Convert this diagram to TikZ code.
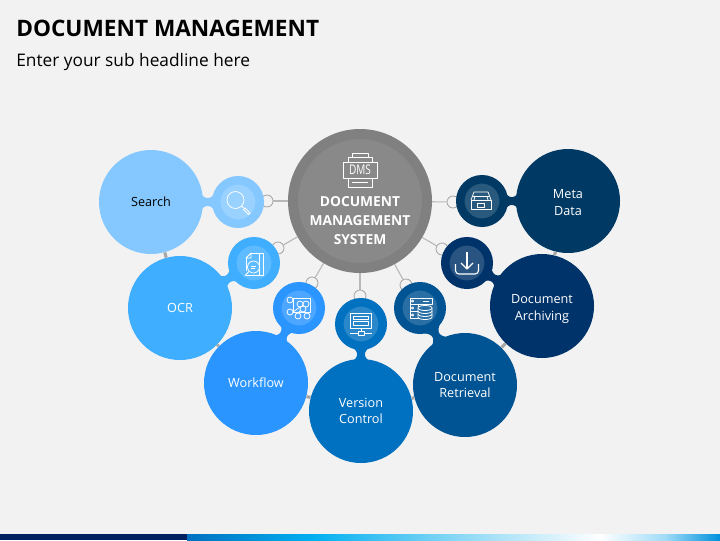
\documentclass[tikz,border=0pt]{standalone}
\usepackage{fontspec}
\setmainfont{Open Sans}
\def\px{0.025cm}
\definecolor{pagebg}{HTML}{F2F2F2}
\definecolor{linkgray}{HTML}{A6A6A6}
\definecolor{hubring}{HTML}{808080}
\definecolor{hubfill}{HTML}{898989}
\definecolor{searchblue}{HTML}{85C8FF}
\definecolor{ocrblue}{HTML}{3FAEFF}
\definecolor{flowblue}{HTML}{2B95FF}
\definecolor{versionblue}{HTML}{0070C0}
\definecolor{retrieveblue}{HTML}{005494}
\definecolor{archiveblue}{HTML}{00336A}
\definecolor{metablue}{HTML}{003A64}
\definecolor{bandnavy}{HTML}{002060}
\definecolor{bandsky}{HTML}{00B0F0}
\definecolor{bandpale}{HTML}{8AD8F5}
\definecolor{bandmist}{HTML}{A0DCF8}
\definecolor{bandend}{HTML}{0090DC}
\tikzset{
    bigball/.style={circle, fill=#1, text=white, minimum size=104*\px, inner sep=0pt, align=center, font=\fontsize{9}{11.9}\selectfont},
    iconball/.style={circle, fill=#1!84!white, draw=#1, line width=8.5*\px, minimum size=43.5*\px, inner sep=0pt},
    ringdot/.style={circle, draw=linkgray, fill=pagebg, line width=0.6pt, minimum size=12*\px, inner sep=0pt},
    hublink/.style={draw=linkgray!80, line width=0.8pt},
    biglink/.style={draw=linkgray, line width=2.2pt},
    icon/.style={draw=white, line width=0.55pt, line join=round},
    neck/.pic={\fill[#1] (-9,-11) .. controls (-2.5,-1.5) and (2.5,-1.5) .. (9,-11) -- (9,11) .. controls (2.5,1.5) and (-2.5,1.5) .. (-9,11) -- cycle;},
    icondms/.pic={
        \draw[icon] (-17,-8) rectangle (17,8);
        \draw[icon] (-12,-8) -- (-12,-13) -- (-8,-13) -- (-8,-17) -- (8,-17) -- (8,-13) -- (12,-13) -- (12,-8);
        \draw[icon] (-8,-13) -- (8,-13);
        \draw[icon] (-12,8) -- (-12,17) -- (12,17) -- (12,8);
        \draw[icon] (-8,12.5) -- (8,12.5);
        \node[text=white, inner sep=0pt, font=\fontsize{9.5}{9.5}\selectfont, xscale=0.75] (dmsword) at (0,0) {DMS};
    },
    iconsearch/.pic={
        \draw[icon] (-2.5,-2) circle (8.5);
        \draw[icon] (3.5,4) -- (5.5,6);
        \draw[icon] (5.5,7.5) -- (7,6) -- (12,11) -- (10.5,12.5) -- cycle;
    },
    icondoc/.pic={
        \draw[icon] (-3,-10) -- (9,-10) -- (9,12) -- (4,12);
        \draw[icon] (-8,-5) -- (-3,-10) -- (-3,-5) -- cycle;
        \draw[icon] (-8,-5) -- (-8,8);
        \draw[icon] (-8,12) -- (5,12) -- (5,-10);
        \draw[icon, fill=ocrblue!84!white] (-0.5,4) circle (6);
        \draw[icon] (-5,8.5) -- (-9,12.5);
        \draw[icon] (-3,3) -- (2,3) (-3,5.5) -- (1,5.5);
    },
    iconflow/.pic={
        \draw[icon] (-6,-10) rectangle (11,4);
        \draw[icon] (-9,-8) circle (3) (-9,4) circle (3) (-1,8) circle (3) (8,8) circle (3);
        \draw[icon, fill=flowblue!84!white] (1,-4) circle (3) (7,-4) circle (3) (4,1) circle (3);
        \draw[icon] (-6,4) -- (1,-1) (-1,5) -- (2,2) (8,5) -- (5,3.5);
    },
    iconscreen/.pic={
        \draw[icon] (-11,-11) rectangle (10,4);
        \draw[icon] (-8,-8) rectangle (7,-4.5);
        \draw[icon] (-8,-2.5) rectangle (7,1);
        \draw[icon] (0,4) -- (0,7);
        \draw[icon] (-3,7) rectangle (3,11);
        \draw[icon] (-11,9) -- (-3,9) (3,9) -- (11,9);
    },
    iconserver/.pic={
        \draw[icon] (-10,-10) rectangle (12,-4);
        \draw[icon] (-10,-4) rectangle (-2,3);
        \draw[icon] (-10,3) rectangle (-2,10);
        \draw[icon] (-7.5,-7) circle (1.2) (-7.5,0) circle (1.2) (-7.5,7) circle (1.2);
        \draw[icon] (3,-7) -- (9,-7);
        \draw[icon, fill=retrieveblue!84!white] (-2,0) -- (-2,9) arc[start angle=180, end angle=0, x radius=7, y radius=2.5] -- (12,0);
        \draw[icon, fill=retrieveblue!84!white] (5,0) ellipse (7 and 2.5);
        \draw[icon] (-2,3) arc[start angle=180, end angle=0, x radius=7, y radius=2.5];
        \draw[icon] (-2,6) arc[start angle=180, end angle=0, x radius=7, y radius=2.5];
    },
    icondown/.pic={
        \draw[icon, line width=0.8pt, rounded corners=2.5] (-11.5,1) -- (-11.5,11) -- (11.5,11) -- (11.5,1);
        \draw[icon, line width=0.8pt] (0,-11) -- (0,6);
        \draw[icon, line width=0.8pt] (-6,0) -- (0,6) -- (6,0);
    },
    icontray/.pic={
        \draw[icon] (-10,-1) rectangle (10,8);
        \draw[icon] (-10,-1) -- (-7,-9) -- (7,-9) -- (10,-1);
        \draw[icon] (-8,-5) -- (8,-5);
        \draw[icon] (-7,-1) -- (-6,-5) (7,-1) -- (6,-5);
        \draw[icon] (-3.5,2.5) rectangle (3.5,6);
    }
}
\begin{document}
\begin{tikzpicture}[x=\px, y=-\px]
    \fill[pagebg] (0,0) rectangle (720,540);
    \useasboundingbox (0,0) rectangle (720,540);

    % bottom band
    \fill[bandnavy] (0,534) rectangle (187,540);
    \shade[left color=versionblue, right color=bandsky] (187,534) rectangle (312,540);
    \shade[left color=bandsky, right color=bandpale] (312,534) rectangle (459,540);
    \shade[left color=bandpale, right color=white] (459,534) rectangle (600,540);
    \shade[left color=white, right color=bandmist] (600,534) rectangle (665,540);
    \shade[left color=bandmist, right color=bandend] (665,534) rectangle (720,540);

    % headings
    \node[anchor=base west, inner sep=0pt, font=\fontsize{16.1}{18}\selectfont\bfseries] (headline) at (16,36) {DOCUMENT MANAGEMENT};
    \node[anchor=base west, inner sep=0pt, font=\fontsize{12.3}{15}\selectfont] (subline) at (16,66) {Enter your sub headline here};

    % centre and rings
    \node[circle, fill=hubfill, draw=hubring, line width=10*\px, minimum size=134*\px, inner sep=0pt] (hub) at (360,201) {};
    \node[ringdot] (searchring) at (267,201) {};
    \node[ringdot] (ocrring) at (278,248) {};
    \node[ringdot] (flowring) at (312,283) {};
    \node[ringdot] (versionring) at (360,296) {};
    \node[ringdot] (retrievering) at (406,285) {};
    \node[ringdot] (archivering) at (442,249) {};
    \node[ringdot] (metaring) at (453,202) {};
    \draw[hublink] (hub) -- (searchring);
    \draw[hublink] (hub) -- (ocrring);
    \draw[hublink] (hub) -- (flowring);
    \draw[hublink] (hub) -- (versionring);
    \draw[hublink] (hub) -- (retrievering);
    \draw[hublink] (hub) -- (archivering);
    \draw[hublink] (hub) -- (metaring);

    % big circles
    \node[bigball=searchblue, text=black] (searchbig) at (151,202) {Search};
    \node[bigball=ocrblue] (ocrbig) at (180,308) {OCR};
    \node[bigball=flowblue] (flowbig) at (256,383) {Workflow};
    \node[bigball=versionblue] (versionbig) at (361,411) {Version\\Control};
    \node[bigball=retrieveblue] (retrievebig) at (465,385) {Document\\Retrieval};
    \node[bigball=archiveblue] (archivebig) at (542,306) {\rule{0pt}{10.5pt}Document\\Archiving};
    \node[bigball=metablue] (metabig) at (568,201) {\rule{0pt}{9pt}Meta\\Data};

    % icon circles
    \node[iconball=searchblue] (searchicon) at (238,202) {};
    \node[iconball=ocrblue] (ocricon) at (254,263) {};
    \node[iconball=flowblue] (flowicon) at (299,308) {};
    \node[iconball=versionblue] (versionicon) at (361,324) {};
    \node[iconball=retrieveblue] (retrieveicon) at (420,308) {};
    \node[iconball=archiveblue] (archiveicon) at (467,263) {};
    \node[iconball=metablue] (metaicon) at (482,201) {};

    % necks between each big circle and its icon
    \path (searchbig) -- (searchicon) pic[midway, sloped] {neck=searchblue};
    \path (ocrbig) -- (ocricon) pic[midway, sloped] {neck=ocrblue};
    \path (flowbig) -- (flowicon) pic[midway, sloped] {neck=flowblue};
    \path (versionbig) -- (versionicon) pic[midway, sloped] {neck=versionblue};
    \path (retrievebig) -- (retrieveicon) pic[midway, sloped] {neck=retrieveblue};
    \path (archivebig) -- (archiveicon) pic[midway, sloped] {neck=archiveblue};
    \path (metabig) -- (metaicon) pic[midway, sloped] {neck=metablue};

    % links between big circles
    \draw[biglink] (searchbig) -- (ocrbig);
    \draw[biglink] (ocrbig) -- (flowbig);
    \draw[biglink] (flowbig) -- (versionbig);
    \draw[biglink] (versionbig) -- (retrievebig);
    \draw[biglink] (retrievebig) -- (archivebig);
    \draw[biglink] (archivebig) -- (metabig);

    % icons
    \pic at (360,170) {icondms};
    \pic at (238,202) {iconsearch};
    \pic at (254,263) {icondoc};
    \pic at (299,308) {iconflow};
    \pic at (361,324) {iconscreen};
    \pic at (420,308) {iconserver};
    \pic at (467,263) {icondown};
    \pic at (481,201) {icontray};

    \node[text=white, align=center, font=\fontsize{9.8}{13.5}\selectfont\bfseries, inner sep=0pt] (hubtitle) at (360,221) {DOCUMENT\\MANAGEMENT\\SYSTEM};
\end{tikzpicture}
\end{document}
